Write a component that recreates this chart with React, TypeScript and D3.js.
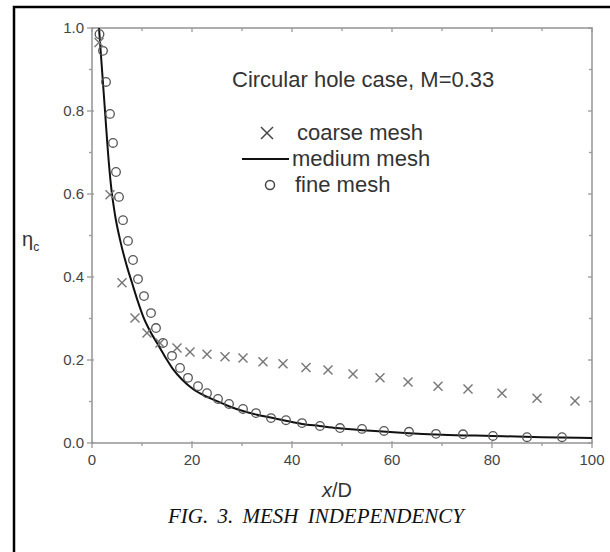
import React from "react";
import * as d3 from "d3";

// Coarse mesh results (x/D, eta_c)
const coarseX = [1.4, 3.6, 6.0, 8.6, 11.0, 13.6, 17.0, 19.6, 23.0, 26.6, 30.2, 34.2, 38.2, 42.8, 47.2, 52.2, 57.6, 63.2, 69.2, 75.2, 82.0, 89.0, 96.6];
const coarseY = [0.965, 0.598, 0.386, 0.301, 0.265, 0.241, 0.229, 0.219, 0.214, 0.208, 0.205, 0.196, 0.191, 0.182, 0.176, 0.166, 0.157, 0.147, 0.137, 0.130, 0.120, 0.108, 0.101];

// Medium mesh results
const mediumX = [1.4, 2.0, 2.6, 3.2, 3.8, 4.6, 5.6, 7.0, 8.0, 9.2, 10.2, 11.6, 13.0, 14.6, 16.2, 18.0, 20.2, 22.5, 25.0, 27.5, 30.2, 33.0, 36.2, 39.0, 42.0, 45.5, 49.0, 55.0, 62.6, 70.0, 80.0, 90.0, 100.0];
const mediumY = [1.0, 0.9, 0.8, 0.7, 0.62, 0.55, 0.49, 0.425, 0.386, 0.34, 0.306, 0.27, 0.241, 0.208, 0.178, 0.153, 0.130, 0.114, 0.101, 0.088, 0.077, 0.068, 0.060, 0.053, 0.046, 0.041, 0.036, 0.030, 0.024, 0.020, 0.017, 0.014, 0.012];

// Fine mesh results
const fineX = [1.5, 2.2, 2.8, 3.6, 4.2, 4.8, 5.4, 6.2, 7.2, 8.2, 9.2, 10.4, 11.8, 12.8, 14.2, 16.0, 17.6, 19.2, 21.2, 23.0, 25.2, 27.4, 30.2, 32.8, 35.8, 38.8, 42.0, 45.6, 49.6, 54.0, 58.4, 63.4, 68.8, 74.2, 80.2, 87.0, 94.0];
const fineY = [0.985, 0.945, 0.870, 0.793, 0.723, 0.653, 0.593, 0.537, 0.487, 0.441, 0.395, 0.354, 0.313, 0.277, 0.241, 0.210, 0.181, 0.157, 0.137, 0.120, 0.106, 0.094, 0.082, 0.072, 0.060, 0.055, 0.048, 0.041, 0.036, 0.034, 0.029, 0.027, 0.022, 0.021, 0.017, 0.014, 0.014];

const xMajorTicks = [0, 20, 40, 60, 80, 100];
const xMinorTicks = [10, 30, 50, 70, 90];
const yMajorTicks = [0, 0.2, 0.4, 0.6, 0.8, 1.0];
const yMinorTicks = [0.1, 0.3, 0.5, 0.7, 0.9];

const legendLabels = ["coarse mesh", "medium mesh", "fine mesh"];
const titleText = "Circular hole case, M=0.33";
const captionText = "FIG. 3. MESH INDEPENDENCY";

const W = 610;
const H = 552;
const sans = "'Liberation Sans', Arial, sans-serif";
const serif = "'Liberation Serif', 'Times New Roman', serif";

export default function App() {
  const x = d3.scaleLinear().domain([0, 100]).range([92, 592]);
  const y = d3.scaleLinear().domain([0, 1]).range([443, 28]);

  const medium = mediumX.map((v, i) => [v, mediumY[i]] as [number, number]);
  const line = d3
    .line<[number, number]>()
    .x((d) => x(d[0]))
    .y((d) => y(d[1]))
    .curve(d3.curveMonotoneX);

  const axisColor = "#9a9a9a";
  const x0 = x(0), x1 = x(100), y0 = y(0), y1 = y(1);

  const cross = (cx: number, cy: number, r: number, color: string, sw: number, key: string) => (
    <g key={key} stroke={color} strokeWidth={sw}>
      <line x1={cx - r} y1={cy - r} x2={cx + r} y2={cy + r} />
      <line x1={cx - r} y1={cy + r} x2={cx + r} y2={cy - r} />
    </g>
  );

  return (
    <svg width={W} height={H} style={{ position: "absolute", left: 0, top: 0, background: "#fff" }}>
      <rect x={0} y={0} width={W} height={H} fill="#fff" />
      {/* figure frame */}
      <rect x={14} y={7} width={640} height={600} fill="none" stroke="#000" strokeWidth={2.5} />

      {/* plot box */}
      <rect x={x0} y={y1} width={x1 - x0} height={y0 - y1} fill="none" stroke={axisColor} strokeWidth={1.6} />

      {/* bottom & top ticks */}
      {xMajorTicks.map((t) => (
        <g key={"xm" + t} stroke={axisColor} strokeWidth={1.3}>
          <line x1={x(t)} x2={x(t)} y1={y0 - 2} y2={y0 + 5} />
          <line x1={x(t)} x2={x(t)} y1={y1} y2={y1 + 4} />
        </g>
      ))}
      {xMinorTicks.map((t) => (
        <g key={"xn" + t} stroke={axisColor} strokeWidth={1.3}>
          <line x1={x(t)} x2={x(t)} y1={y0} y2={y0 + 3} />
          <line x1={x(t)} x2={x(t)} y1={y1} y2={y1 + 3} />
        </g>
      ))}
      {/* left & right ticks */}
      {yMajorTicks.map((t) => (
        <g key={"ym" + t} stroke={axisColor} strokeWidth={1.3}>
          <line x1={x0 - 5} x2={x0 + 2} y1={y(t)} y2={y(t)} />
          <line x1={x1 - 4} x2={x1} y1={y(t)} y2={y(t)} />
        </g>
      ))}
      {yMinorTicks.map((t) => (
        <g key={"yn" + t} stroke={axisColor} strokeWidth={1.3}>
          <line x1={x0 - 3} x2={x0} y1={y(t)} y2={y(t)} />
          <line x1={x1 - 3} x2={x1} y1={y(t)} y2={y(t)} />
        </g>
      ))}

      {/* tick labels */}
      {xMajorTicks.map((t) => (
        <text key={"xl" + t} x={x(t)} y={465} textAnchor="middle" fontFamily={sans} fontSize={15} fill="#444">
          {t}
        </text>
      ))}
      {yMajorTicks.map((t) => (
        <text key={"yl" + t} x={84} y={y(t) + 5} textAnchor="end" fontFamily={sans} fontSize={15} fill="#444">
          {t.toFixed(1)}
        </text>
      ))}

      {/* axis titles */}
      <text x={337} y={497} textAnchor="middle" fontFamily={sans} fontSize={20} fill="#333">
        <tspan fontStyle="italic">x</tspan>/D
      </text>
      <text x={22} y={246} fontFamily={sans} fontSize={20} fill="#333">
        η<tspan fontSize={12} dy={5}>c</tspan>
      </text>

      {/* data */}
      <path d={line(medium) ?? ""} fill="none" stroke="#111" strokeWidth={2} />
      {fineX.map((v, i) => (
        <circle key={"f" + i} cx={x(v)} cy={y(fineY[i])} r={4.3} fill="none" stroke="#555" strokeWidth={1.3} />
      ))}
      {coarseX.map((v, i) => cross(x(v), y(coarseY[i]), 4.5, "#777", 1.4, "c" + i))}

      {/* title and legend */}
      <text x={232} y={87} fontFamily={sans} fontSize={22} fill="#333">
        {titleText}
      </text>
      {cross(267, 133, 6, "#444", 1.5, "lg0")}
      <text x={297} y={140} fontFamily={sans} fontSize={22} fill="#333">
        {legendLabels[0]}
      </text>
      <line x1={242} x2={289} y1={159} y2={159} stroke="#111" strokeWidth={2} />
      <text x={292} y={166} fontFamily={sans} fontSize={22} fill="#333">
        {legendLabels[1]}
      </text>
      <circle cx={270} cy={185} r={4.5} fill="none" stroke="#444" strokeWidth={1.5} />
      <text x={295} y={192} fontFamily={sans} fontSize={22} fill="#333">
        {legendLabels[2]}
      </text>

      {/* caption */}
      <text x={316} y={523} textAnchor="middle" fontFamily={serif} fontStyle="italic" fontSize={21} wordSpacing={4} fill="#111">
        {captionText}
      </text>
    </svg>
  );
}
